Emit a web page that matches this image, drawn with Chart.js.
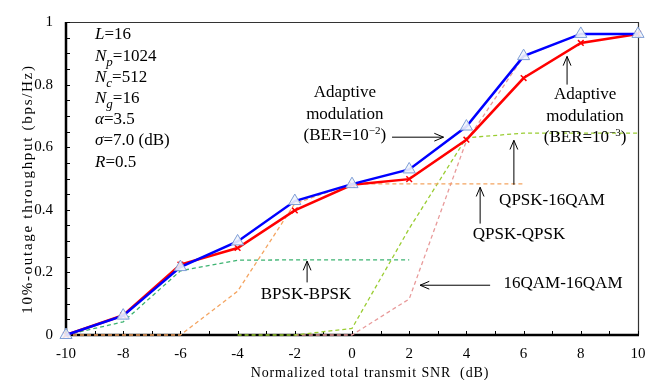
<!DOCTYPE html>
<html>
<head>
<meta charset="utf-8">
<script src="https://cdn.jsdelivr.net/npm/chart.js@4"></script>
<style>
  html, body { margin: 0; padding: 0; background: #fff; }
  #wrap { width: 657px; height: 380px; }
</style>
</head>
<body>
<div id="wrap"><canvas id="chart" width="657" height="380"></canvas></div>
<script>
// x values (dB)
const snr = [-10, -8, -6, -4, -2, 0, 2, 4, 6, 8, 10];

// 10%-outage throughput curves (bps/Hz)
const adaptiveBer2 = [0, 0.062, 0.217, 0.299, 0.428, 0.482, 0.529, 0.666, 0.891, 0.962, 0.962];
const adaptiveBer3 = [0, 0.063, 0.225, 0.278, 0.398, 0.480, 0.498, 0.624, 0.821, 0.933, 0.962];
const bpskBpsk   = [0, 0.042, 0.205, 0.239, 0.240, 0.240, 0.240, null, null, null, null];
const qpskQpsk   = [0, 0, 0, 0.140, 0.420, 0.483, 0.483, 0.483, 0.483, null, null];
const qpskQam16  = [null, null, null, 0, 0, 0.021, 0.340, 0.630, 0.645, 0.645, 0.645];
const qam16Qam16 = [null, null, null, null, 0, 0, 0.115, 0.620, 0.890, 0.962, 0.962];

const xTicks = [-10, -8, -6, -4, -2, 0, 2, 4, 6, 8, 10];
const yTicks = [0, 0.2, 0.4, 0.6, 0.8, 1];
const yTickLabels = ['0', '0.2', '0.4', '0.6', '0.8', '1'];

const SERIF = '"Liberation Serif", "Times New Roman", serif';

function toPoints(ys) {
    return snr.map((x, i) => ({ x: x, y: ys[i] }));
}

function dashed(label, ys, color) {
    return {
        label: label,
        data: toPoints(ys),
        borderColor: color,
        borderWidth: 1.3,
        borderDash: [4, 3],
        pointRadius: 0,
        spanGaps: false,
        clip: false
    };
}

// rich text: [text, style] with style n | i | isub | sup
function drawRich(ctx, parts, x, y, size, align) {
    const fontFor = s => {
        if (s === 'i') return 'italic ' + size + 'px ' + SERIF;
        if (s === 'isub') return 'italic ' + Math.round(size * 0.75) + 'px ' + SERIF;
        if (s === 'sup') return Math.round(size * 0.65) + 'px ' + SERIF;
        return size + 'px ' + SERIF;
    };
    let total = 0;
    parts.forEach(p => { ctx.font = fontFor(p[1]); total += ctx.measureText(p[0]).width; });
    let cx = align === 'center' ? x - total / 2 : x;
    ctx.textAlign = 'left';
    ctx.textBaseline = 'middle';
    parts.forEach(p => {
        ctx.font = fontFor(p[1]);
        let dy = 0;
        if (p[1] === 'isub') dy = size * 0.3;
        if (p[1] === 'sup') dy = -size * 0.3;
        ctx.fillText(p[0], cx, y + dy);
        cx += ctx.measureText(p[0]).width;
    });
}

function arrow(ctx, x1, y1, x2, y2) {
    const a = Math.atan2(y2 - y1, x2 - x1);
    const len = 10, w = 0.4;
    ctx.beginPath();
    ctx.moveTo(x1, y1);
    ctx.lineTo(x2, y2);
    ctx.moveTo(x2 - len * Math.cos(a - w), y2 - len * Math.sin(a - w));
    ctx.lineTo(x2, y2);
    ctx.lineTo(x2 - len * Math.cos(a + w), y2 - len * Math.sin(a + w));
    ctx.stroke();
}

const frame = {
    id: 'frame',
    beforeDatasetsDraw(chart) {
        const { ctx, chartArea: a, scales } = chart;
        ctx.save();
        ctx.strokeStyle = '#333';
        ctx.lineWidth = 1.2;
        ctx.beginPath();
        ctx.moveTo(a.left, a.top + 0.5);
        ctx.lineTo(a.right + 0.5, a.top + 0.5);
        ctx.lineTo(a.right + 0.5, a.bottom);
        ctx.stroke();

        // inward ticks
        ctx.strokeStyle = '#000';
        ctx.lineWidth = 1;
        ctx.beginPath();
        for (let v = 0; v <= 1.0001; v += 0.05) {
            const py = Math.round(scales.y.getPixelForValue(v)) + 0.5;
            ctx.moveTo(a.left, py);
            ctx.lineTo(a.left + 4, py);
        }
        for (let v = -10; v <= 10; v += 1) {
            const px = Math.round(scales.x.getPixelForValue(v)) + 0.5;
            ctx.moveTo(px, a.bottom);
            ctx.lineTo(px, a.bottom - 4);
        }
        ctx.stroke();

        ctx.lineWidth = 2.5;
        ctx.beginPath();
        ctx.moveTo(a.left, a.top);
        ctx.lineTo(a.left, a.bottom);
        ctx.lineTo(a.right + 1, a.bottom);
        ctx.stroke();
        ctx.restore();
    },
    afterDraw(chart) {
        const { ctx, chartArea: a, scales } = chart;
        const X = v => scales.x.getPixelForValue(v);
        const Y = v => scales.y.getPixelForValue(v);
        ctx.save();
        ctx.fillStyle = '#000';
        ctx.strokeStyle = '#000';
        ctx.lineWidth = 1;

        // axis titles
        ctx.font = '14px ' + SERIF;
        ctx.letterSpacing = '0.9px';
        ctx.textAlign = 'center';
        ctx.textBaseline = 'middle';
        ctx.fillText('Normalized total transmit SNR  (dB)', 370, 373);
        ctx.save();
        ctx.translate(28, 189);
        ctx.rotate(-Math.PI / 2);
        ctx.font = '15px ' + SERIF;
        ctx.letterSpacing = '1.7px';
        ctx.fillText('10%-outage throughput (bps/Hz)', 0, 0);
        ctx.restore();
        ctx.letterSpacing = '0px';

        // parameter block
        const params = [
            [['L', 'i'], ['=16', 'n']],
            [['N', 'i'], ['p', 'isub'], ['=1024', 'n']],
            [['N', 'i'], ['c', 'isub'], ['=512', 'n']],
            [['N', 'i'], ['g', 'isub'], ['=16', 'n']],
            [['\u03b1', 'i'], ['=3.5', 'n']],
            [['\u03c3', 'i'], ['=7.0 (dB)', 'n']],
            [['R', 'i'], ['=0.5', 'n']]
        ];
        const rowY = [35, 57, 78, 99, 120, 141, 163];
        params.forEach((p, i) => drawRich(ctx, p, a.left + 29, rowY[i], 17, 'left'));

        // adaptive BER=1e-2
        const cx2 = X(-0.25);
        drawRich(ctx, [['Adaptive', 'n']], cx2, 93, 17, 'center');
        drawRich(ctx, [['modulation', 'n']], cx2, 115, 17, 'center');
        drawRich(ctx, [['(BER=10', 'n'], ['\u22122', 'sup'], [')', 'n']], cx2, 136, 17, 'center');
        arrow(ctx, X(1.4), Y(0.632), X(3.2), Y(0.632));

        // adaptive BER=1e-3
        const cx3 = X(8.15);
        drawRich(ctx, [['Adaptive', 'n']], cx3, 95, 17, 'center');
        drawRich(ctx, [['modulation', 'n']], cx3, 117, 17, 'center');
        drawRich(ctx, [['(BER=10', 'n'], ['\u22123', 'sup'], [')', 'n']], cx3, 138, 17, 'center');
        arrow(ctx, X(7.52), Y(0.80), X(7.52), Y(0.89));

        // QPSK-16QAM
        drawRich(ctx, [['QPSK-16QAM', 'n']], 552, 201, 17, 'center');
        arrow(ctx, X(5.66), Y(0.48), X(5.66), Y(0.622));

        // QPSK-QPSK
        drawRich(ctx, [['QPSK-QPSK', 'n']], 519, 235, 17, 'center');
        arrow(ctx, X(4.48), Y(0.356), X(4.48), Y(0.472));

        // BPSK-BPSK
        drawRich(ctx, [['BPSK-BPSK', 'n']], 306, 295, 17, 'center');
        arrow(ctx, X(-1.57), Y(0.168), X(-1.57), Y(0.236));

        // 16QAM-16QAM
        drawRich(ctx, [['16QAM-16QAM', 'n']], 563, 284, 17, 'center');
        arrow(ctx, X(4.83), Y(0.159), X(2.38), Y(0.159));

        ctx.restore();
    }
};

new Chart(document.getElementById('chart'), {
    type: 'line',
    data: {
        datasets: [
            {
                label: 'Adaptive modulation (BER=1e-2)',
                data: toPoints(adaptiveBer2),
                borderColor: '#0000ff',
                borderWidth: 2.5,
                pointStyle: 'triangle',
                pointRadius: 7,
                pointBorderWidth: 1,
                pointBorderColor: '#7f9ed6',
                pointBackgroundColor: 'rgba(240,244,252,0.9)',
                clip: false
            },
            {
                label: 'Adaptive modulation (BER=1e-3)',
                data: toPoints(adaptiveBer3),
                borderColor: '#ff0000',
                borderWidth: 2.5,
                pointStyle: 'crossRot',
                pointRadius: 4,
                pointBorderWidth: 1.5,
                pointBorderColor: '#ff0000',
                clip: false
            },
            dashed('BPSK-BPSK', bpskBpsk, '#3cb371'),
            dashed('QPSK-QPSK', qpskQpsk, '#f4a460'),
            dashed('QPSK-16QAM', qpskQam16, '#9acd32'),
            dashed('16QAM-16QAM', qam16Qam16, '#e89a9a')
        ]
    },
    options: {
        responsive: false,
        animation: false,
        events: [],
        layout: { padding: { left: 0, right: 19, top: 17, bottom: 0 } },
        plugins: { legend: { display: false }, tooltip: { enabled: false } },
        elements: { line: { tension: 0 } },
        scales: {
            x: {
                type: 'linear',
                min: -10,
                max: 10,
                afterFit: s => { s.height = 45; },
                afterBuildTicks: s => { s.ticks = xTicks.map(v => ({ value: v })); },
                grid: { display: false, drawTicks: false },
                border: { display: false },
                ticks: { padding: 10, color: '#000', font: { family: SERIF, size: 15 } }
            },
            y: {
                min: 0,
                max: 1,
                afterFit: s => { s.width = 66; },
                afterBuildTicks: s => { s.ticks = yTicks.map(v => ({ value: v })); },
                grid: { display: false, drawTicks: false },
                border: { display: false },
                ticks: {
                    padding: 13,
                    color: '#000',
                    font: { family: SERIF, size: 15 },
                    callback: (v, i) => yTickLabels[i]
                }
            }
        }
    },
    plugins: [frame]
});
</script>
</body>
</html>
